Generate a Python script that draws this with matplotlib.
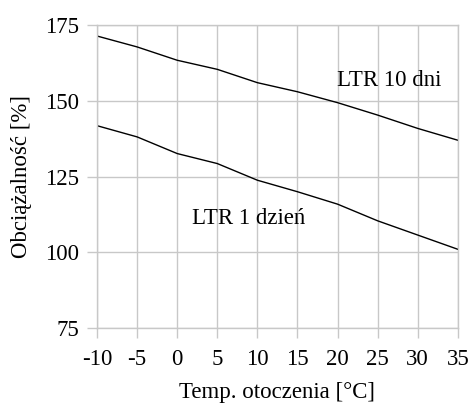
import matplotlib
matplotlib.use('Agg')
import matplotlib.pyplot as plt

plt.rcParams['font.family'] = ['Liberation Serif', 'DejaVu Serif']
plt.rcParams['axes.unicode_minus'] = False

# --- Data ---
temps      = [-10, -5, 0, 5, 10, 15, 20, 25, 30, 35]
ltr_10dni  = [171.4, 167.8, 163.4, 160.4, 156.0, 153.0, 149.4, 145.3, 140.9, 137.0]
ltr_1dzien = [141.8, 138.1, 132.6, 129.3, 123.8, 120.0, 115.9, 110.4, 105.7, 101.0]
x_ticks    = [-10, -5, 0, 5, 10, 15, 20, 25, 30, 35]
y_ticks    = [75, 100, 125, 150, 175]

GRID = '#c8c8c8'
FS = 16.5

fig = plt.figure(figsize=(4.71, 4.05), dpi=100)
ax = fig.add_axes([0.206, 0.190, 0.766, 0.748])

ax.plot(temps, ltr_10dni, color='black', linewidth=1.0)
ax.plot(temps, ltr_1dzien, color='black', linewidth=1.0)

ax.text(19.9, 156.8, 'LTR 10 dni', fontsize=FS, va='center', ha='left')
ax.text(1.9, 111.3, 'LTR 1 dzień', fontsize=FS, va='center', ha='left')

ax.set_xlim(-10, 35)
ax.set_ylim(75, 175)
ax.set_xticks(x_ticks)
ax.set_yticks(y_ticks)
ax.grid(True, color=GRID, linewidth=1.0)
ax.set_axisbelow(True)
for sp in ax.spines.values():
    sp.set_edgecolor(GRID)
    sp.set_linewidth(1.0)
ax.tick_params(axis='both', colors=GRID, labelcolor='black', labelsize=FS,
               length=7, width=1.0)
ax.tick_params(axis='x', pad=8)
ax.tick_params(axis='y', pad=6)

ax.set_xlabel('Temp. otoczenia [°C]', fontsize=FS, labelpad=9)
ax.set_ylabel('Obciążalność [%]', fontsize=FS, labelpad=9)

fig.savefig('out.png', dpi=100)
plt.close(fig)
